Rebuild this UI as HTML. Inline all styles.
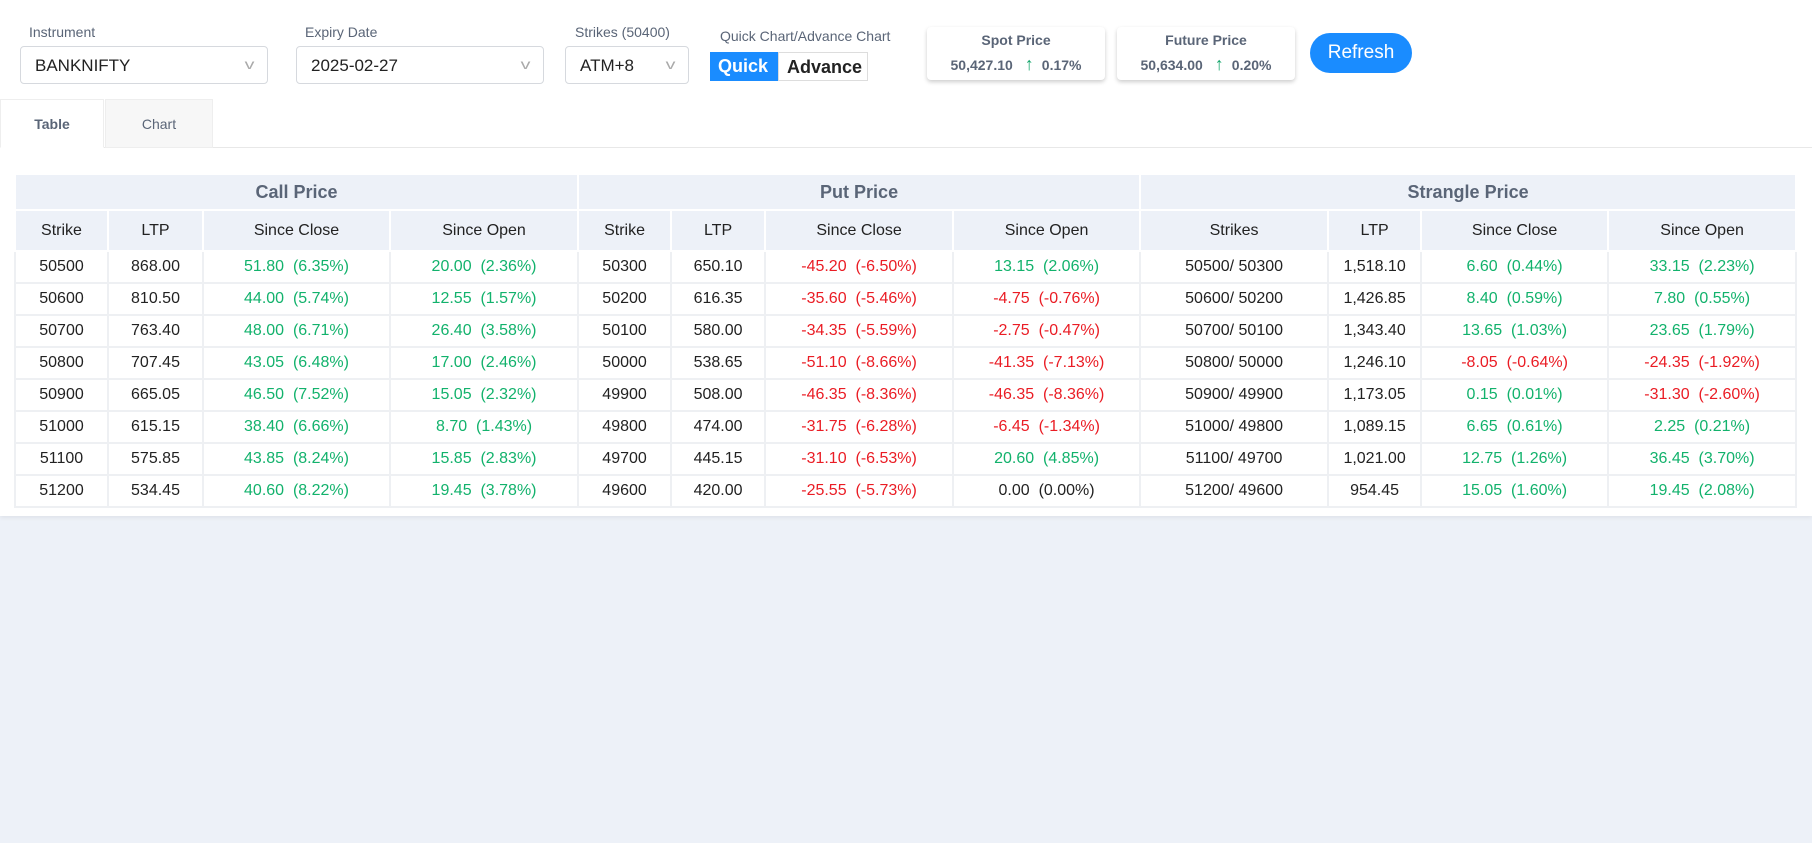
<!DOCTYPE html>
<html><head><meta charset="utf-8"><style>
*{box-sizing:border-box;margin:0;padding:0}
body{width:1812px;height:843px;background:#edf1f8;font-family:"Liberation Sans",sans-serif;position:relative;overflow:hidden}
#panel{position:absolute;left:0;top:0;width:1812px;height:516px;background:#fff;box-shadow:0 2px 4px rgba(0,0,0,.06)}
.lbl{position:absolute;font-size:14px;color:#5a6577;top:24px}
.sel{position:absolute;top:46px;height:38px;border:1px solid #d6d9de;border-radius:4px;font-size:17px;color:#222;padding:9px 14px}
.sel .car{position:absolute;right:14px;top:9px;color:#aaa;font-size:14px;transform:scaleX(1.4)}
.tog{position:absolute;top:52px;height:29px;font-size:18px;font-weight:bold;padding:4px 8px}
.card{position:absolute;top:27px;height:53px;width:178px;background:#fff;border-radius:4px;box-shadow:0 2px 4px rgba(0,0,0,.2);text-align:center;color:#5a6577;font-size:14px}
.card .t{margin-top:5px;font-weight:600}
.card .v{margin-top:6px;font-size:14px;font-weight:600}
.card .up{color:#14a56b;margin:0 8px 0 12px;font-weight:bold;font-size:18px}
#refresh{position:absolute;left:1310px;top:33px;width:102px;height:40px;border-radius:20px;background:#1a8cff;color:#fff;font-size:19px;text-align:center;line-height:40px}
.tab{position:absolute;top:99px;height:49px;font-size:14px;color:#5a6577;text-align:center;line-height:49px}
table{position:absolute;left:14px;top:173px;border-collapse:collapse;table-layout:fixed;width:1781px}
td,th{font-size:16px;text-align:center;border:2px solid #eef0f3;padding:0;white-space:nowrap;color:#222;font-weight:normal}
th.g{background:#edf1f8;color:#5a6577;font-size:18px;height:36px;border-color:#fff;font-weight:600}
th.h{background:#edf1f8;height:41px;border-color:#fff}
td{height:32px}
.gr{color:#12b26c}.rd{color:#ea1c24}
</style></head><body>
<div id="panel">
<div class="lbl" style="left:29px">Instrument</div>
<div class="sel" style="left:20px;width:248px">BANKNIFTY<span class="car">v</span></div>
<div class="lbl" style="left:305px">Expiry Date</div>
<div class="sel" style="left:296px;width:248px">2025-02-27<span class="car">v</span></div>
<div class="lbl" style="left:575px">Strikes (50400)</div>
<div class="sel" style="left:565px;width:124px">ATM+8<span class="car">v</span></div>
<div class="lbl" style="left:720px;top:28px">Quick Chart/Advance Chart</div>
<div class="tog" style="left:710px;width:68px;background:#1a8cff;color:#fff">Quick</div>
<div class="tog" style="left:778px;width:90px;border:1px solid #ddd;color:#222">Advance</div>
<div class="card" style="left:927px"><div class="t">Spot Price</div><div class="v">50,427.10<span class="up">↑</span>0.17%</div></div>
<div class="card" style="left:1117px"><div class="t">Future Price</div><div class="v">50,634.00<span class="up">↑</span>0.20%</div></div>
<div id="refresh">Refresh</div>
<div style="position:absolute;left:0;top:147px;width:1812px;height:1px;background:#e8e8e8"></div>
<div class="tab" style="left:0;width:104px;background:#fff;font-weight:bold;border:1px solid #eee;border-bottom:1px solid #fff">Table</div>
<div class="tab" style="left:105px;width:108px;background:#f7f7f7;border:1px solid #eee">Chart</div>
<table id="tbl">
<colgroup><col style="width:93px"><col style="width:95px"><col style="width:187px"><col style="width:188px"><col style="width:93px"><col style="width:94px"><col style="width:188px"><col style="width:187px"><col style="width:188px"><col style="width:93px"><col style="width:187px"><col style="width:188px"></colgroup>
<tr><th class="g" colspan="4">Call Price</th><th class="g" colspan="4">Put Price</th><th class="g" colspan="4">Strangle Price</th></tr>
<tr id="hdr"></tr>
</table>
</div>
<script>
const heads=["Strike","LTP","Since Close","Since Open","Strike","LTP","Since Close","Since Open","Strikes","LTP","Since Close","Since Open"];
const callStrike=["50500","50600","50700","50800","50900","51000","51100","51200"];
const callLtp=["868.00","810.50","763.40","707.45","665.05","615.15","575.85","534.45"];
const callClose=["51.80  (6.35%)","44.00  (5.74%)","48.00  (6.71%)","43.05  (6.48%)","46.50  (7.52%)","38.40  (6.66%)","43.85  (8.24%)","40.60  (8.22%)"];
const callOpen=["20.00  (2.36%)","12.55  (1.57%)","26.40  (3.58%)","17.00  (2.46%)","15.05  (2.32%)","8.70  (1.43%)","15.85  (2.83%)","19.45  (3.78%)"];
const putStrike=["50300","50200","50100","50000","49900","49800","49700","49600"];
const putLtp=["650.10","616.35","580.00","538.65","508.00","474.00","445.15","420.00"];
const putClose=["-45.20  (-6.50%)","-35.60  (-5.46%)","-34.35  (-5.59%)","-51.10  (-8.66%)","-46.35  (-8.36%)","-31.75  (-6.28%)","-31.10  (-6.53%)","-25.55  (-5.73%)"];
const putOpen=["13.15  (2.06%)","-4.75  (-0.76%)","-2.75  (-0.47%)","-41.35  (-7.13%)","-46.35  (-8.36%)","-6.45  (-1.34%)","20.60  (4.85%)","0.00  (0.00%)"];
const strStrikes=["50500/ 50300","50600/ 50200","50700/ 50100","50800/ 50000","50900/ 49900","51000/ 49800","51100/ 49700","51200/ 49600"];
const strLtp=["1,518.10","1,426.85","1,343.40","1,246.10","1,173.05","1,089.15","1,021.00","954.45"];
const strClose=["6.60  (0.44%)","8.40  (0.59%)","13.65  (1.03%)","-8.05  (-0.64%)","0.15  (0.01%)","6.65  (0.61%)","12.75  (1.26%)","15.05  (1.60%)"];
const strOpen=["33.15  (2.23%)","7.80  (0.55%)","23.65  (1.79%)","-24.35  (-1.92%)","-31.30  (-2.60%)","2.25  (0.21%)","36.45  (3.70%)","19.45  (2.08%)"];
const hdr=document.getElementById('hdr');
heads.forEach(h=>{const th=document.createElement('th');th.className='h';th.textContent=h;


hdr.appendChild(th);});
const cols=[callStrike,callLtp,callClose,callOpen,putStrike,putLtp,putClose,putOpen,strStrikes,strLtp,strClose,strOpen];
const colored=[2,3,6,7,10,11];
const tbl=document.getElementById('tbl');
for(let r=0;r<callStrike.length;r++){const tr=document.createElement('tr');


cols.forEach((c,i)=>{const td=document.createElement('td');td.textContent=c[r];td.style.whiteSpace='pre';
if(colored.includes(i)){const v=parseFloat(c[r]);if(v>0)td.className='gr';else if(v<0)td.className='rd';}


tr.appendChild(td);});
tbl.appendChild(tr);}
</script>
</body></html>
